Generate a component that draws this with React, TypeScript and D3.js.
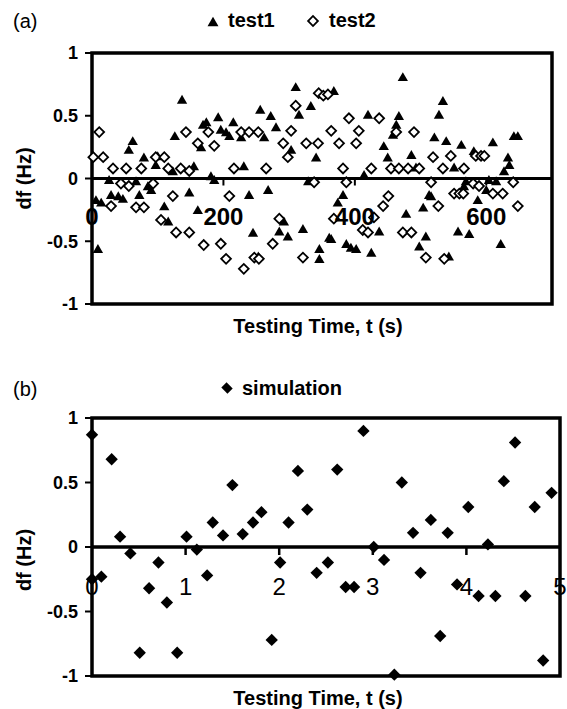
import React from "react";
import * as d3 from "d3";

// ---- Data ----
const test1Time = [137,62,56,126,169,166,79,100,97,155,123,26,29,40,47,67,72,85,90,6,14,148,110,161,116,9,
  310,333,256,272,315,192,174,215,280,196,204,209,227,262,303,341,231,181,186,329,239,268,292,245,285,298,321,346,253,
  473,368,420,467,463,458,444,486,450,521,493,414,513,382,374,504,478,437,361,364,508,498,387,394,402,425,346,
  534,528,642,648,539,562,610,581,633,635,551,627,569,604,615,600,566,516,587,557,574,622,543];
const test1Df = [0.62,0.29,0.22,0.33,0.42,0.24,0.16,0.17,0.10,0.09,0.05,-0.02,-0.14,-0.15,-0.17,-0.03,-0.14,-0.07,-0.10,-0.18,-0.20,-0.12,-0.23,-0.26,-0.35,-0.57,
  0.72,0.57,0.54,0.49,0.50,0.48,0.44,0.44,0.40,0.38,0.36,0.33,0.32,0.32,0.22,0.16,0.09,0.01,-0.02,-0.03,-0.14,-0.10,-0.35,-0.44,-0.43,-0.47,-0.41,-0.57,-0.63,
  0.80,0.69,0.50,0.49,0.42,0.34,0.25,0.18,0.16,0.32,0.08,0.02,-0.14,-0.14,-0.20,-0.24,-0.29,-0.43,-0.48,-0.49,-0.47,-0.55,-0.53,-0.56,-0.57,-0.60,-0.65,
  0.61,0.50,0.33,0.33,0.29,0.26,0.28,0.21,0.16,0.10,0.08,0.05,-0.03,-0.02,-0.03,-0.10,-0.07,-0.15,-0.18,-0.43,-0.45,-0.53,-0.63];

const test2Time = [11,143,161,2,17,32,52,75,97,110,116,135,148,44,56,93,29,67,79,123,105,128,148,
  345,310,303,177,186,227,239,253,291,326,344,298,216,265,338,209,285,170,196,204,247,254,231,275,321,
  352,359,391,437,364,406,463,490,376,402,382,425,455,467,481,498,387,516,451,443,429,368,412,420,473,486,508,
  519,546,584,592,597,534,566,580,641,551,559,565,610,625,527,648,536,589];
const test2Df = [0.37,0.37,0.28,0.17,0.17,0.08,0.08,0.08,0.17,0.17,0.08,0.08,0.06,-0.04,-0.06,-0.04,-0.22,-0.23,-0.23,-0.14,-0.33,-0.43,-0.43,
  0.68,0.58,0.38,0.37,0.26,0.37,0.37,0.37,0.28,0.28,0.28,0.17,0.08,0.08,-0.03,-0.14,-0.32,-0.53,-0.52,-0.64,-0.63,-0.64,-0.72,-0.52,-0.63,
  0.66,0.67,0.48,0.48,0.38,0.38,0.37,0.37,0.28,0.28,0.08,0.08,0.08,0.08,0.08,0.08,-0.03,-0.03,-0.14,-0.22,-0.31,-0.32,-0.41,-0.43,-0.43,-0.43,-0.63,
  0.17,0.18,0.18,0.18,0.18,0.08,0.08,-0.04,-0.03,-0.12,-0.12,-0.12,-0.12,-0.12,-0.22,-0.22,-0.64,-0.06];

const simTime = [0,0.21,0.30,1.01,1.29,1.40,1.50,1.61,1.72,1.81,2.10,2.90,2.20,2.62,2.30,3.31,3.43,3.62,3.80,4.02,4.40,4.52,4.73,4.91,
  0,0.10,0.41,0.61,0.71,0.80,0.51,0.91,1.12,1.23,2.01,1.92,2.40,2.52,2.71,2.80,3.01,3.12,3.23,3.51,3.72,3.90,4.13,4.23,4.31,4.63,4.82];
const simDf = [0.87,0.68,0.08,0.08,0.19,0.09,0.48,0.10,0.19,0.27,0.19,0.90,0.59,0.60,0.29,0.50,0.11,0.21,0.11,0.31,0.51,0.81,0.31,0.42,
  -0.25,-0.23,-0.05,-0.32,-0.12,-0.43,-0.82,-0.82,-0.02,-0.22,-0.12,-0.72,-0.20,-0.12,-0.31,-0.31,0.0,-0.10,-0.99,-0.20,-0.69,-0.29,-0.38,0.02,-0.38,-0.38,-0.88];

const yTicks = [1, 0.5, 0, -0.5, -1];
const yTickLabels = ["1", "0.5", "0", "-0.5", "-1"];
const xTicksA = [0, 200, 400, 600];
const xTicksB = [0, 1, 2, 3, 4, 5];

const FONT = "'Liberation Sans', Arial, Helvetica, sans-serif";

const tri = d3.symbol().type(d3.symbolTriangle).size(46)() as string;
const triLeg = d3.symbol().type(d3.symbolTriangle).size(52)() as string;
const dia = d3.symbol().type(d3.symbolSquare).size(48)() as string;
const diaB = d3.symbol().type(d3.symbolSquare).size(76)() as string;

function YAxis({ y, x0 }: { y: d3.ScaleLinear<number, number>; x0: number }) {
  return (
    <g>
      {yTicks.map((t, i) => (
        <g key={i}>
          <line x1={x0 - 7} x2={x0} y1={y(t)} y2={y(t)} stroke="#000" strokeWidth={2} />
          <text x={78} y={y(t)} dy="0.36em" textAnchor="end" fontFamily={FONT} fontWeight="bold" fontSize={18}>
            {yTickLabels[i]}
          </text>
        </g>
      ))}
    </g>
  );
}

export default function App() {
  // Panel (a)
  const xa = d3.scaleLinear().domain([0, 700]).range([92, 552]);
  const ya = d3.scaleLinear().domain([-1, 1]).range([304, 53]);
  // Panel (b)
  const xb = d3.scaleLinear().domain([0, 5]).range([92, 560]);
  const yb = d3.scaleLinear().domain([-1, 1]).range([676, 418]);

  return (
    <svg width={567} height={709} style={{ position: "absolute", left: 0, top: 0, background: "#fff" }}>
      <rect x={0} y={0} width={567} height={709} fill="#fff" />
      {/* ===== Panel (a) ===== */}
      <text x={13} y={28} fontFamily={FONT} fontSize={20}>(a)</text>
      <path d={triLeg} transform="translate(213,23)" fill="#000" />
      <text x={228} y={27} fontFamily={FONT} fontWeight="bold" fontSize={20}>test1</text>
      <path d={dia} transform="translate(313,21) rotate(45)" fill="#fff" stroke="#000" strokeWidth={1.8} />
      <text x={329} y={27} fontFamily={FONT} fontWeight="bold" fontSize={20}>test2</text>

      <rect x={xa(0)} y={ya(1)} width={xa(700) - xa(0)} height={ya(-1) - ya(1)} fill="#fff" stroke="#000" strokeWidth={3.5} />
      <line x1={xa(0)} x2={xa(700)} y1={ya(0)} y2={ya(0)} stroke="#000" strokeWidth={3} />
      {xTicksA.slice(1).map((t) => (
        <line key={t} x1={xa(t)} x2={xa(t)} y1={ya(0)} y2={ya(0) + 7} stroke="#000" strokeWidth={2} />
      ))}
      <YAxis y={ya} x0={xa(0)} />

      {test1Time.map((t, i) => (
        <path key={"t1" + i} d={tri} transform={`translate(${xa(t)},${ya(test1Df[i])})`} fill="#000" />
      ))}
      {test2Time.map((t, i) => (
        <path key={"t2" + i} d={dia} transform={`translate(${xa(t)},${ya(test2Df[i])}) rotate(45)`} fill="#fff" stroke="#000" strokeWidth={1.8} />
      ))}
      {xTicksA.map((t) => (
        <text key={t} x={xa(t)} y={ya(0) + 46} textAnchor="middle" fontFamily={FONT} fontWeight="bold" fontSize={24}>{t}</text>
      ))}
      <text x={318} y={333} textAnchor="middle" fontFamily={FONT} fontWeight="bold" fontSize={20}>Testing Time, t (s)</text>
      <text transform={`translate(31,${ya(0)}) rotate(-90)`} textAnchor="middle" fontFamily={FONT} fontWeight="bold" fontSize={20}>df (Hz)</text>

      {/* ===== Panel (b) ===== */}
      <text x={13} y={396} fontFamily={FONT} fontSize={20}>(b)</text>
      <path d={diaB} transform="translate(227,388) rotate(45) scale(1,0.85)" fill="#000" />
      <text x={242} y={395} fontFamily={FONT} fontWeight="bold" fontSize={20}>simulation</text>

      <rect x={xb(0)} y={yb(1)} width={xb(5) - xb(0)} height={yb(-1) - yb(1)} fill="#fff" stroke="#000" strokeWidth={3.5} />
      <line x1={xb(0)} x2={xb(5)} y1={yb(0)} y2={yb(0)} stroke="#000" strokeWidth={3.5} />
      {xTicksB.slice(1, 5).map((t) => (
        <line key={t} x1={xb(t)} x2={xb(t)} y1={yb(0)} y2={yb(0) + 8} stroke="#000" strokeWidth={2.5} />
      ))}
      <YAxis y={yb} x0={xb(0)} />
      {simTime.map((t, i) => (
        <path key={"s" + i} d={diaB} transform={`translate(${xb(t)},${yb(simDf[i])}) rotate(45)`} fill="#000" />
      ))}
      {xTicksB.map((t) => (
        <text key={t} x={xb(t)} y={yb(0) + 48} textAnchor="middle" fontFamily={FONT} fontSize={24}>{t}</text>
      ))}
      <text x={318} y={705} textAnchor="middle" fontFamily={FONT} fontWeight="bold" fontSize={20}>Testing Time, t (s)</text>
      <text transform={`translate(31,560) rotate(-90)`} textAnchor="middle" fontFamily={FONT} fontWeight="bold" fontSize={20}>df (Hz)</text>
    </svg>
  );
}
